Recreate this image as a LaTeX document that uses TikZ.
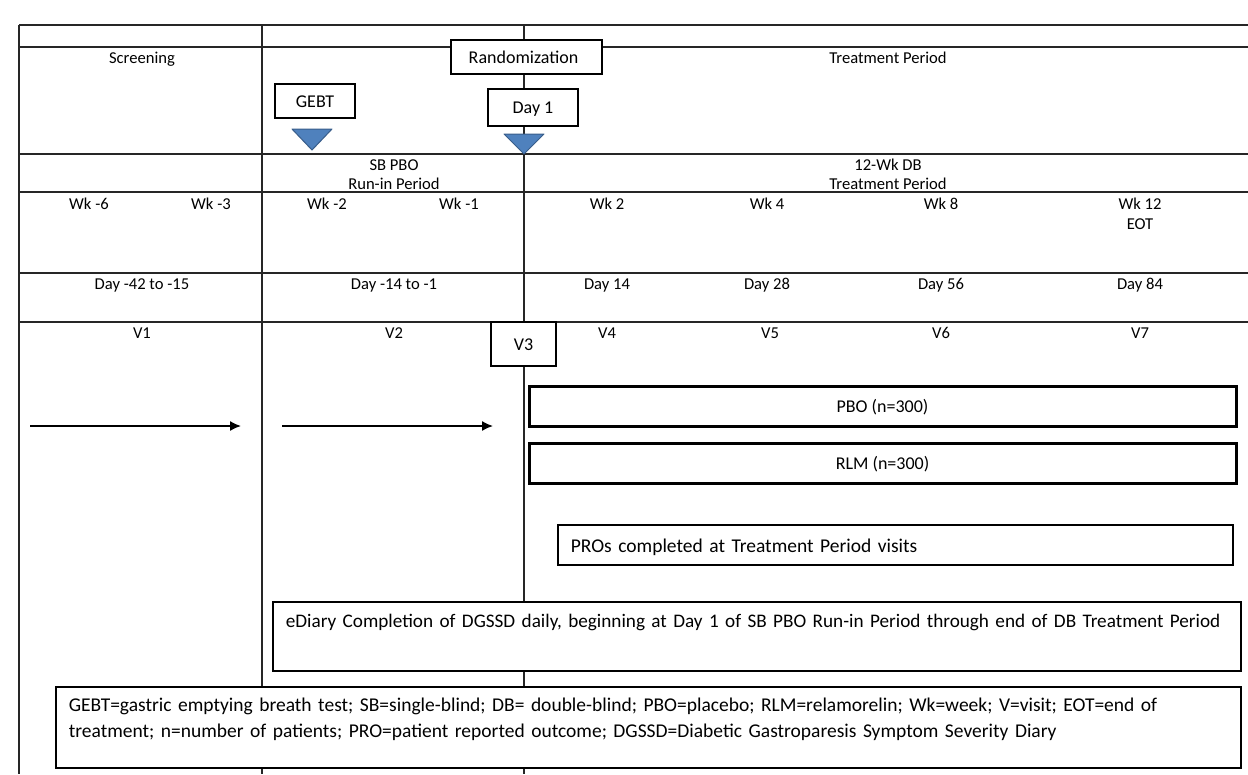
\documentclass[tikz,border=0pt]{standalone}
\usepackage{fontspec}
\setmainfont{Carlito}
\usepackage{tikz}
\usetikzlibrary{positioning,arrows.meta}
\tikzset{>={Latex[width=10pt,length=11pt]}}
\definecolor{tri}{HTML}{4F81BD}
\definecolor{trib}{HTML}{385D8A}
\tikzset{
	rule/.style={line width=1.6pt, black!85},
	lbl/.style={font=\fontsize{16.6}{19}\selectfont, inner sep=0pt, anchor=base},
	box/.style={draw, line width=1.5pt, fill=white, inner sep=0pt, font=\fontsize{18}{21}\selectfont, text height=12pt, text depth=0pt},
	arm/.style={draw, line width=3pt, fill=white, minimum width=707pt, minimum height=40pt, inner sep=0pt, font=\fontsize{18}{21}\selectfont, text height=12pt, text depth=0pt},
	note/.style={draw, line width=1.6pt, fill=white, inner ysep=0pt, inner xsep=13pt, align=left, anchor=north west, font=\fontsize{19.5}{26}\selectfont},
	marker/.style={fill=tri, draw=trib, line width=1pt, line join=round}
}

\begin{document}
\begin{tikzpicture}[x=1pt,y=-1pt]
	\useasboundingbox (0,0) rectangle (1248,774);
	
	\foreach \y in {25,47,154,192,273,322}
		\draw[rule] (19,\y) -- (1248,\y);
	\foreach \x in {19,262,524}
		\draw[rule] (\x,25) -- (\x,774);
	
	\node(S1) [lbl] at (142,63) {Screening};
	\node(S2) [lbl] at (888,63) {Treatment Period};
	\node(P1) [lbl] at (394,170) {SB PBO};
	\node(P2) [lbl] at (394,189) {Run-in Period};
	\node(P3) [lbl] at (888,170) {12-Wk DB};
	\node(P4) [lbl] at (888,189) {Treatment Period};
	
	\foreach \x/\t [count=\i] in {89/Wk -6, 211/Wk -3, 327/Wk -2, 459/Wk -1, 607/Wk 2, 767/Wk 4, 941/Wk 8, 1140/Wk 12}
		\node(W\i) [lbl] at (\x,209) {\t};
	\node(W9) [lbl] at (1140,229) {EOT};
	
	\foreach \x/\t [count=\i] in {142/Day -42 to -15, 394/Day -14 to -1, 607/Day 14, 767/Day 28, 941/Day 56, 1140/Day 84}
		\node(D\i) [lbl] at (\x,289) {\t};
	
	\foreach \x/\t in {142/V1, 394/V2, 607/V4, 770/V5, 941/V6, 1140/V7}
		\node(\t) [lbl] at (\x,338) {\t};
	
	\node(R1) [box, minimum width=151pt, minimum height=34pt] at (526.5,57) {Randomization\hspace*{6pt}};
	\node(G1) [box, minimum width=80pt, minimum height=34pt] at (315,101) {GEBT};
	\node(R2) [box, minimum width=90pt, minimum height=37pt] at (533,107.5) {Day 1};
	\node(V3) [box, minimum width=65pt, minimum height=44pt] at (523.5,344) {V3};
	
	\filldraw[marker] (292,129) -- (332,129) -- (312,150) -- cycle;
	\filldraw[marker] (504,134) -- (544,134) -- (524,154) -- cycle;
	
	\coordinate(a1) at (30,426);
	\coordinate(a2) at (241,426);
	\coordinate(b1) at (282,426);
	\coordinate(b2) at (493,426);
	\draw[->, line width=1.5pt] (a1) -- (a2);
	\draw[->, line width=1.5pt] (b1) -- (b2);
	
	\node(A1) [arm] at (882.5,406) {PBO (n=300)};
	\node(A2) [arm, below=14pt of A1] {RLM (n=300)};
	
	\node(N1) [note, text width=649pt, text height=27.5pt, text depth=12.5pt] at (557,524) {PROs completed at Treatment Period visits};
	\node(N2) [note, text width=942pt, text height=26pt, text depth=43pt, font=\fontsize{19.2}{26}\selectfont] at (272,601) {eDiary Completion of DGSSD daily, beginning at Day 1 of SB PBO Run-in Period through end of DB Treatment Period};
	\node(N3) [note, text width=1159pt, text height=24.5pt, text depth=56.5pt] at (55,686) {GEBT=gastric emptying breath test; SB=single-blind; DB= double-blind; PBO=placebo; RLM=relamorelin; Wk=week; V=visit; EOT=end of\\treatment; n=number of patients; PRO=patient reported outcome; DGSSD=Diabetic Gastroparesis Symptom Severity Diary};
	
\end{tikzpicture}
\end{document}
